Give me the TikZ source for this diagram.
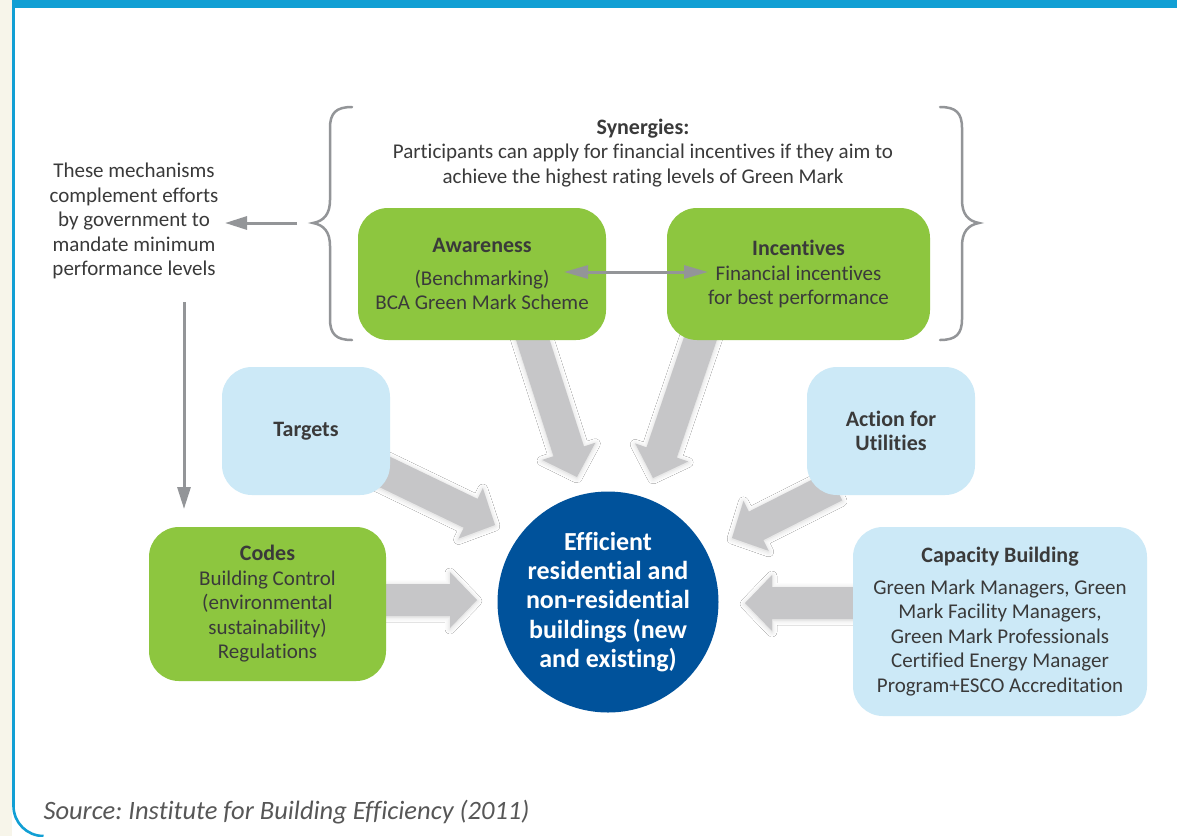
\documentclass[tikz,border=0pt]{standalone}
\usepackage{fontspec}
\setmainfont{Carlito}[Ligatures={TeX,NoCommon}]
\usetikzlibrary{arrows.meta,calc,shadows.blur}
\frenchspacing
\definecolor{frameblue}{HTML}{119FD4}
\definecolor{cream}{HTML}{F7F5EA}
\definecolor{leaf}{HTML}{8DC63F}
\definecolor{sky}{HTML}{CCE9F7}
\definecolor{navy}{HTML}{00529B}
\definecolor{blockgray}{HTML}{C6C6C8}
\definecolor{linegray}{HTML}{939598}
\definecolor{ink}{HTML}{3A3A3A}
\newcommand{\blockarrow}[2]{%
  \coordinate (ba-h) at ($(#2)!27pt!(#1)$);
  \fill[blockfill] ($(#1)!16pt!-90:(#2)$) -- ($(ba-h)!16pt!90:(#1)$) -- ($(ba-h)!28pt!90:(#1)$) -- (#2)
    -- ($(ba-h)!28pt!-90:(#1)$) -- ($(ba-h)!16pt!-90:(#1)$) -- ($(#1)!16pt!90:(#2)$) -- cycle;
}
\newcommand{\hd}[1]{{\fontsize{22}{24.5}\selectfont\bfseries #1}}
\tikzset{
  blockfill/.style={blockgray, blur shadow={shadow xshift=0pt, shadow yshift=-1pt, shadow blur radius=5pt, shadow opacity=18}},
  bodytext/.style={text=ink, align=center, font=\fontsize{21}{24.5}\selectfont},
  box/.style={bodytext, rounded corners=30pt, inner sep=0pt},
  greenbox/.style={box, fill=leaf},
  bluebox/.style={box, fill=sky},
  hub/.style={circle, fill=navy, text=white, align=center, minimum size=221pt, inner sep=0pt,
    font=\fontsize{26}{29.3}\selectfont\bfseries},
  thinarrow/.style={draw=linegray, line width=3pt, -{Triangle[length=22pt,width=13pt]}},
  twoarrow/.style={draw=linegray, line width=3pt, {Triangle[length=24pt,width=13pt]}-{Triangle[length=24pt,width=13pt]}},
  bracestyle/.style={draw=linegray, line width=2.5pt, line cap=round},
}
\begin{document}
\begin{tikzpicture}[x=1pt,y=-1pt]
\useasboundingbox (0,0) rectangle (1177,836);
% frame
\fill[white] (0,0) rectangle (1177,836);
\fill[cream] (0,0) rectangle (12,836);
\fill[frameblue] (12,0) rectangle (1177,8);
\draw[frameblue, line width=2.6pt] (13.5,0) -- (13.5,806) arc[start angle=180, end angle=90, radius=30];
% anchor coordinates of block arrows
\coordinate (a1s) at (528,325);
\coordinate (a1t) at (577,477);
\coordinate (a2s) at (705,325);
\coordinate (a2t) at (653,478);
\coordinate (a3s) at (360,460);
\coordinate (a3t) at (495,525);
\coordinate (a4s) at (370,600);
\coordinate (a4t) at (477,600);
\coordinate (a5s) at (835,486);
\coordinate (a5t) at (732,538);
\coordinate (a6s) at (870,603);
\coordinate (a6t) at (745,603);
\blockarrow{a1s}{a1t}
\blockarrow{a2s}{a2t}
\blockarrow{a3s}{a3t}
\blockarrow{a4s}{a4t}
\blockarrow{a5s}{a5t}
\blockarrow{a6s}{a6t}
% boxes
\node[greenbox, minimum width=248pt, minimum height=132pt] (aware) at (482,274)
  {\hd{Awareness}\\[8.5pt](Benchmarking)\\BCA Green Mark Scheme};
\node[greenbox, minimum width=263pt, minimum height=132pt] (incent) at (798.5,274)
  {\hd{Incentives}\\Financial incentives\\for best performance};
\node[bluebox, minimum width=168pt, minimum height=128pt] (targets) at (306,431)
  {\hd{Targets}};
\node[bluebox, minimum width=168pt, minimum height=128pt] (utilities) at (891,431)
  {\hd{Action for}\\\hd{Utilities}};
\node[greenbox, minimum width=237pt, minimum height=154pt] (codes) at (267.5,604)
  {\hd{Codes}\\Building Control\\(environmental\\sustainability)\\Regulations};
\node[bluebox, minimum width=294pt, minimum height=189pt] (capacity) at (1000,621.5)
  {\hd{Capacity Building}\\[7.5pt]Green Mark Managers, Green\\Mark Facility Managers,\\Green Mark Professionals\\Certified Energy Manager\\Program+ESCO Accreditation};
\node[hub] (hub) at (608,602)
  {Efficient\\residential and\\non-residential\\buildings (new\\and existing)};
% texts
\node[bodytext] (synergy) at (643,153)
  {\hd{Synergies:}\\Participants can apply for financial incentives if they aim to\\achieve the highest rating levels of Green Mark};
\node[bodytext] (mech) at (134,221)
  {These mechanisms\\complement efforts\\by government to\\mandate minimum\\performance levels};
\node[anchor=west, text=ink!85, font=\fontsize{26.5}{30}\selectfont\itshape] (source) at (40,812)
  {Source: Institute for Building Efficiency (2011)};
% braces
\draw[bracestyle] (352,107) .. controls (336,107) and (330,113) .. (330,128) -- (330,200)
  .. controls (330,214) and (324,221) .. (313,223) .. controls (324,225) and (330,232) .. (330,246)
  -- (330,319) .. controls (330,334) and (336,340) .. (352,340);
\draw[bracestyle] (940,107) .. controls (956,107) and (962,113) .. (962,128) -- (962,200)
  .. controls (962,214) and (968,221) .. (979,223) .. controls (968,225) and (962,232) .. (962,246)
  -- (962,319) .. controls (962,334) and (956,340) .. (940,340);
% line arrows
\coordinate (braceout) at (297,223);
\coordinate (mechin) at (225,223);
\coordinate (mechout) at (184,302);
\coordinate (codesin) at (184,509);
\coordinate (dl) at (564,272);
\coordinate (dr) at (708,272);
\draw[thinarrow] (braceout) -- (mechin);
\draw[thinarrow] (mechout) -- (codesin);
\draw[twoarrow] (dl) -- (dr);
\end{tikzpicture}
\end{document}
